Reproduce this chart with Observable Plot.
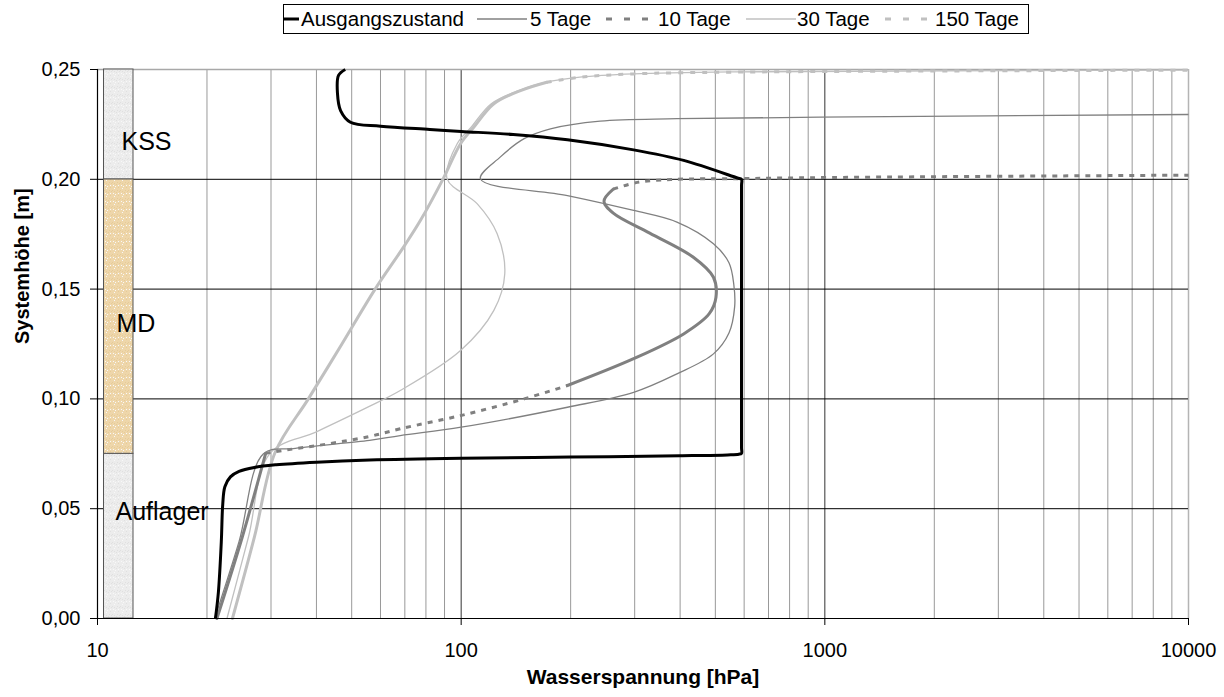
<!DOCTYPE html>
<html><head><meta charset="utf-8">
<script src="https://cdn.jsdelivr.net/npm/d3@7"></script>
<script src="https://cdn.jsdelivr.net/npm/@observablehq/plot@0.6"></script>
<style>
body{margin:0;background:#fff;font-family:"Liberation Sans",Arial,sans-serif;}
#legend{position:relative;height:40px;width:1224px;}
#legend .box{position:absolute;left:283px;top:4px;width:744px;height:28px;border:1px solid #000;}
#legend .item{position:absolute;top:4px;height:30px;display:flex;align-items:center;font-size:20.5px;color:#000;white-space:nowrap;}
#legend svg{display:block;}
</style></head><body>
<div id="legend"><div class="box"></div></div>
<div id="chart"></div>
<script>
// ---- data ----
const seriesNames = ["Ausgangszustand", "5 Tage", "10 Tage", "30 Tage", "150 Tage"];

// [Wasserspannung hPa, Systemhöhe m]
const ausgangszustand = [
  [21.1,0.000],[21.5,0.012],[21.9,0.035],[22.1,0.052],[22.4,0.060],[23.2,0.0645],[24.5,0.067],
  [27,0.0688],[31,0.0700],[40,0.0712],[56,0.0722],[100,0.0730],[200,0.0735],[400,0.0741],
  [540,0.0745],[580,0.0748],[590,0.0752],[590,0.078],[590,0.197],[590,0.2000],[575,0.2006],
  [409,0.2086],[298,0.2134],[196,0.2180],[139,0.2204],[100,0.2218],[82,0.2227],[60,0.2242],
  [49.6,0.2260],[46.6,0.2313],[45.7,0.239],[46,0.2473],[48,0.2500]
];
const tage5 = [
  [21.0,0.000],[24.5,0.035],[28.6,0.075],[35,0.0775],[56,0.0811],[68,0.0833],[100,0.0871],
  [196,0.0962],[298,0.1030],[392,0.1114],[494,0.1205],[545,0.1300],[565,0.1420],[562,0.1520],
  [545,0.1620],[494,0.1706],[392,0.1805],[298,0.1858],[196,0.1926],[113,0.2002],[128,0.2101],
  [149,0.2185],[176,0.2230],[241,0.2265],[392,0.2276],[970,0.2283],[10000,0.2295]
];
const tage10 = [
  [21.3,0.000],[25,0.037],[29.0,0.0752],[30,0.0757],[43,0.0795],[56,0.0829],[68,0.0864],
  [99.6,0.0924],[149,0.1000],[196,0.1061],[298,0.1183],[410,0.1297],[481,0.1388],[502,0.1463],
  [494,0.1554],[435,0.1645],[330,0.1755],[262,0.1846],[247,0.1900],[262,0.1955],[305,0.1986],
  [377,0.1999],[587,0.2003],[1000,0.2008],[10000,0.2019]
];
const tage30 = [
  [22.7,0.000],[26,0.037],[29.8,0.0752],[40,0.0850],[55,0.0960],[68,0.1038],[99.6,0.1220],
  [123,0.1403],[131.8,0.1570],[125.6,0.1752],[110.6,0.1889],[91.5,0.2002],[97.5,0.2162],
  [106.5,0.2237],[121,0.2344],[144,0.2404],[171,0.2442],[212,0.2465],[298,0.2480],[560,0.2489],
  [10000,0.2497]
];
const tage150 = [
  [23.5,0.000],[27,0.037],[30.8,0.0757],[38,0.100],[47,0.125],[58,0.150],[70,0.170],
  [77.3,0.1813],[89.2,0.2002],[99.6,0.2162],[108.3,0.2237],[123,0.2344],[145.6,0.2404],
  [172,0.2442],[213,0.2465],[298,0.2480],[560,0.2488],[10000,0.2497]
];
// height ranges drawn dashed (elsewhere the dense line looks solid)
const tage10DashedRanges = [[0.0752, 0.108], [0.1955, 0.21]];
const tage150DashedRanges = [[0.243, 0.26]];

const layerNames = ["Auflager", "MD", "KSS"];
const layerBottom = [0.000, 0.075, 0.200];
const layerTop = [0.075, 0.200, 0.250];
const layerLabelX = [11.21, 11.28, 11.64];
const layerLabelY = [0.0483, 0.1339, 0.2168];

const xTicks = [10, 100, 1000, 10000];
const xMajorGrid = [100, 1000];
const xMinorGrid = [20,30,40,50,60,70,80,90,200,300,400,500,600,700,800,900,2000,3000,4000,5000,6000,7000,8000,9000];
const yTicks = [0, 0.05, 0.10, 0.15, 0.20, 0.25];
const yGrid = [0.05, 0.10, 0.15, 0.20];

// ---- styles ----
const colors = ["#000000", "#808080", "#808080", "#c0c0c0", "#c0c0c0"];
const widths = [3, 1.3, 3, 1.3, 3];
const dashes = [null, null, "5,6", null, "5,7"];
const colX = [10.42, 12.56];
const layerBase = ["#ececec", "#eed6aa", "#ececec"];
const layerDot = ["#e0e0e0", "#e6cb98", "#e0e0e0"];

function rows(pts) { return pts.map(([x, y]) => ({x, y})); }

function splitRuns(pts, ranges) {
  const inDash = y => ranges.some(([a, b]) => y >= a && y <= b);
  const solid = [], dashed = [];
  let run = 0, cur = null;
  for (let i = 0; i < pts.length - 1; i++) {
    const mid = (pts[i][1] + pts[i + 1][1]) / 2;
    const kind = inDash(mid) ? "d" : "s";
    if (kind !== cur) { run++; cur = kind; }
    const target = kind === "d" ? dashed : solid;
    target.push({x: pts[i][0], y: pts[i][1], run});
    target.push({x: pts[i + 1][0], y: pts[i + 1][1], run});
  }
  const dedupe = arr => arr.filter((d, i) => i === 0 || !(d.run === arr[i-1].run && d.x === arr[i-1].x && d.y === arr[i-1].y));
  return {solid: dedupe(solid), dashed: dedupe(dashed)};
}

const curve = "catmull-rom";
function seriesMarks(pts, i, ranges) {
  if (!ranges) {
    return [Plot.line(rows(pts), {x: "x", y: "y", stroke: colors[i], strokeWidth: widths[i], curve,
      strokeDasharray: dashes[i] || undefined, strokeLinejoin: "round", strokeLinecap: "butt"})];
  }
  const {solid, dashed} = splitRuns(pts, ranges);
  return [
    Plot.line(solid, {x: "x", y: "y", z: "run", stroke: colors[i], strokeWidth: widths[i], curve, strokeLinejoin: "round"}),
    Plot.line(dashed, {x: "x", y: "y", z: "run", stroke: colors[i], strokeWidth: widths[i], curve, strokeDasharray: dashes[i], strokeLinecap: "butt"})
  ];
}

const fmtY = d => d.toFixed(2).replace(".", ",");

const chart = Plot.plot({
  width: 1224, height: 657,
  marginTop: 29, marginBottom: 79, marginLeft: 97, marginRight: 36,
  style: {fontFamily: "'Liberation Sans', Arial, sans-serif", fontSize: "20px", color: "#000", background: "#fff"},
  x: {type: "log", domain: [10, 10000]},
  y: {domain: [0, 0.25]},
  marks: [
    Plot.ruleX(xMinorGrid, {stroke: "#999999", strokeWidth: 1}),
    Plot.ruleX([10000], {stroke: "#b4b4b4", strokeWidth: 1.5}),
    Plot.ruleX(xMajorGrid, {stroke: "#333333", strokeWidth: 1}),
    Plot.ruleY(yGrid, {stroke: "#000000", strokeWidth: 1}),
    Plot.ruleY([0.25], {stroke: "#a8a8a8", strokeWidth: 1.5}),
    ...layerNames.map((n, i) => Plot.rect([n], {x1: colX[0], x2: colX[1], y1: layerBottom[i], y2: layerTop[i],
      fill: `url(#pat${i})`, stroke: "#555", strokeWidth: 1})),
    Plot.text(layerNames, {x: (d, i) => layerLabelX[i], y: (d, i) => layerLabelY[i], text: d => d,
      textAnchor: "start", fontSize: 25, fill: "#000"}),
    ...seriesMarks(tage150, 4, tage150DashedRanges),
    ...seriesMarks(tage30, 3),
    ...seriesMarks(tage10, 2, tage10DashedRanges),
    ...seriesMarks(tage5, 1),
    ...seriesMarks(ausgangszustand, 0),
    Plot.axisX({ticks: xTicks, tickFormat: d => String(d), tickSize: 7, tickPadding: 17, label: null, fontSize: 20}),
    Plot.axisY({ticks: yTicks, tickFormat: fmtY, tickSize: 7, tickPadding: 10, label: null, fontSize: 20}),
    Plot.ruleX([10], {stroke: "#000", strokeWidth: 1.2}),
    Plot.ruleY([0], {stroke: "#000", strokeWidth: 1.2}),
    Plot.text(["Wasserspannung [hPa]"], {frameAnchor: "bottom", dy: 65, text: d => d, fontWeight: "bold", fontSize: 21, fill: "#000"}),
    Plot.text(["Systemhöhe [m]"], {frameAnchor: "left", dx: -75, rotate: -90, text: d => d, fontWeight: "bold", fontSize: 20, fill: "#000"})
  ]
});

// texture patterns for the soil column
const dotPts = [[1,1],[4,0],[6,3],[2,4],[5,6],[0,6],[3,2],[7,7],[2,7],[6,1]];
const defs = d3.select(chart).insert("defs", ":first-child");
layerNames.forEach((n, i) => {
  const p = defs.append("pattern").attr("id", `pat${i}`).attr("patternUnits", "userSpaceOnUse")
    .attr("width", 8).attr("height", 8);
  p.append("rect").attr("width", 8).attr("height", 8).attr("fill", layerBase[i]);
  dotPts.forEach(([x, y], k) => p.append("rect").attr("x", x).attr("y", y).attr("width", 1).attr("height", 1)
    .attr("fill", k % 3 === 0 ? "#f8f8f8" : layerDot[i]));
});
document.getElementById("chart").appendChild(chart);

// legend
const legendPos = [[284, 15, 301], [477, 50, 530], [603, 50, 658], [746, 50, 797], [882, 50, 935]];
const legend = document.getElementById("legend");
seriesNames.forEach((name, i) => {
  const [sx, sw, tx] = legendPos[i];
  const s = document.createElement("div");
  s.className = "item"; s.style.left = sx + "px";
  s.innerHTML = `<svg width="${sw}" height="30"><line x1="0" x2="${sw}" y1="15" y2="15" stroke="${colors[i]}" stroke-width="${widths[i]}" ${dashes[i] ? `stroke-dasharray="6,12" stroke-dashoffset="-3"` : ""}/></svg>`;
  legend.appendChild(s);
  const t = document.createElement("div");
  t.className = "item"; t.style.left = tx + "px"; t.textContent = name;
  legend.appendChild(t);
});
</script></body></html>
